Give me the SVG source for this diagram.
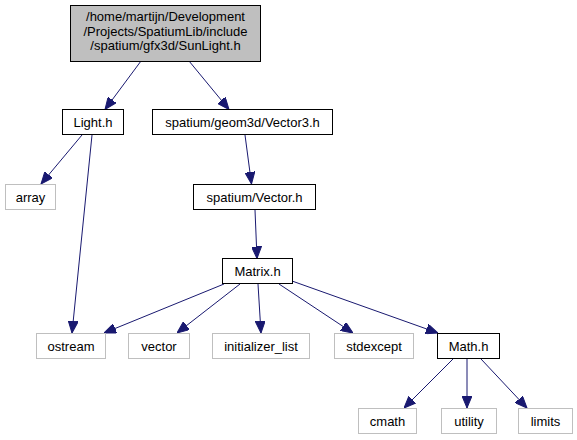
<svg xmlns="http://www.w3.org/2000/svg" width="577" height="440" viewBox="0 0 577 440">
<style>
.n rect{fill:#fff;stroke:#000;stroke-width:1}
.n.root rect{fill:#bfbfbf}
.n.ext rect{stroke:#bfbfbf}
text{font-family:"Liberation Sans",Arial,Helvetica,sans-serif;font-size:13px;fill:#000;text-anchor:middle}
.e path{fill:none;stroke:#191970;stroke-width:1;marker-end:url(#ah)}
</style>
<defs>
<marker id="ah" viewBox="0 0 12 10" refX="12" refY="5" markerWidth="12" markerHeight="10" markerUnits="userSpaceOnUse" orient="auto">
<path d="M0,0 L12,5 L0,10 z" fill="#191970" stroke="#191970" stroke-width="1"/>
</marker>
</defs>
<rect width="577" height="440" fill="#fff"/>
<g class="e" id="edges">
<path d="M141,61 L105,109.5"/>
<path d="M189,61 L229,109.5"/>
<path d="M82,135 L41,184"/>
<path d="M92,135 L72,333"/>
<path d="M245,135 L251.5,184"/>
<path d="M255,210 L257,258.5"/>
<path d="M224,284 L104,333"/>
<path d="M240,284 L177,333"/>
<path d="M258,284 L261,333"/>
<path d="M279,284 L353,333"/>
<path d="M292,281 L438,333"/>
<path d="M453,359 L404,408"/>
<path d="M467,359 L467,408"/>
<path d="M481,359 L527,408"/>
</g>
<g class="n root" id="node-sunlight">
<rect x="70.5" y="5.5" width="190" height="56"/>
<text x="165.5" y="21">/home/martijn/Development</text>
<text x="165.5" y="35.5">/Projects/SpatiumLib/include</text>
<text x="165.5" y="50">/spatium/gfx3d/SunLight.h</text>
</g>
<g class="n" id="node-light">
<rect x="62.5" y="109.5" width="61" height="25"/>
<text x="93" y="126.5">Light.h</text>
</g>
<g class="n" id="node-vector3">
<rect x="152.5" y="109.5" width="180" height="25"/>
<text x="242.5" y="126.5">spatium/geom3d/Vector3.h</text>
</g>
<g class="n ext" id="node-array">
<rect x="5.5" y="184.5" width="50" height="25"/>
<text x="30.5" y="201.5">array</text>
</g>
<g class="n" id="node-vector">
<rect x="193.5" y="184.5" width="122" height="25"/>
<text x="254.5" y="201.5">spatium/Vector.h</text>
</g>
<g class="n" id="node-matrix">
<rect x="222.5" y="258.5" width="70" height="25"/>
<text x="257.5" y="275.5">Matrix.h</text>
</g>
<g class="n ext" id="node-ostream">
<rect x="36.5" y="333.5" width="69" height="25"/>
<text x="71" y="350.5">ostream</text>
</g>
<g class="n ext" id="node-vectorstd">
<rect x="128.5" y="333.5" width="61" height="25"/>
<text x="159" y="350.5">vector</text>
</g>
<g class="n ext" id="node-initlist">
<rect x="212.5" y="333.5" width="97" height="25"/>
<text x="261" y="350.5">initializer_list</text>
</g>
<g class="n ext" id="node-stdexcept">
<rect x="334.5" y="333.5" width="79" height="25"/>
<text x="374" y="350.5">stdexcept</text>
</g>
<g class="n" id="node-math">
<rect x="437.5" y="333.5" width="62" height="25"/>
<text x="468.5" y="350.5">Math.h</text>
</g>
<g class="n ext" id="node-cmath">
<rect x="358.5" y="408.5" width="58" height="25"/>
<text x="387.5" y="425.5">cmath</text>
</g>
<g class="n ext" id="node-utility">
<rect x="441.5" y="408.5" width="55" height="25"/>
<text x="469" y="425.5">utility</text>
</g>
<g class="n ext" id="node-limits">
<rect x="518.5" y="408.5" width="54" height="25"/>
<text x="545.5" y="425.5">limits</text>
</g>
</svg>
